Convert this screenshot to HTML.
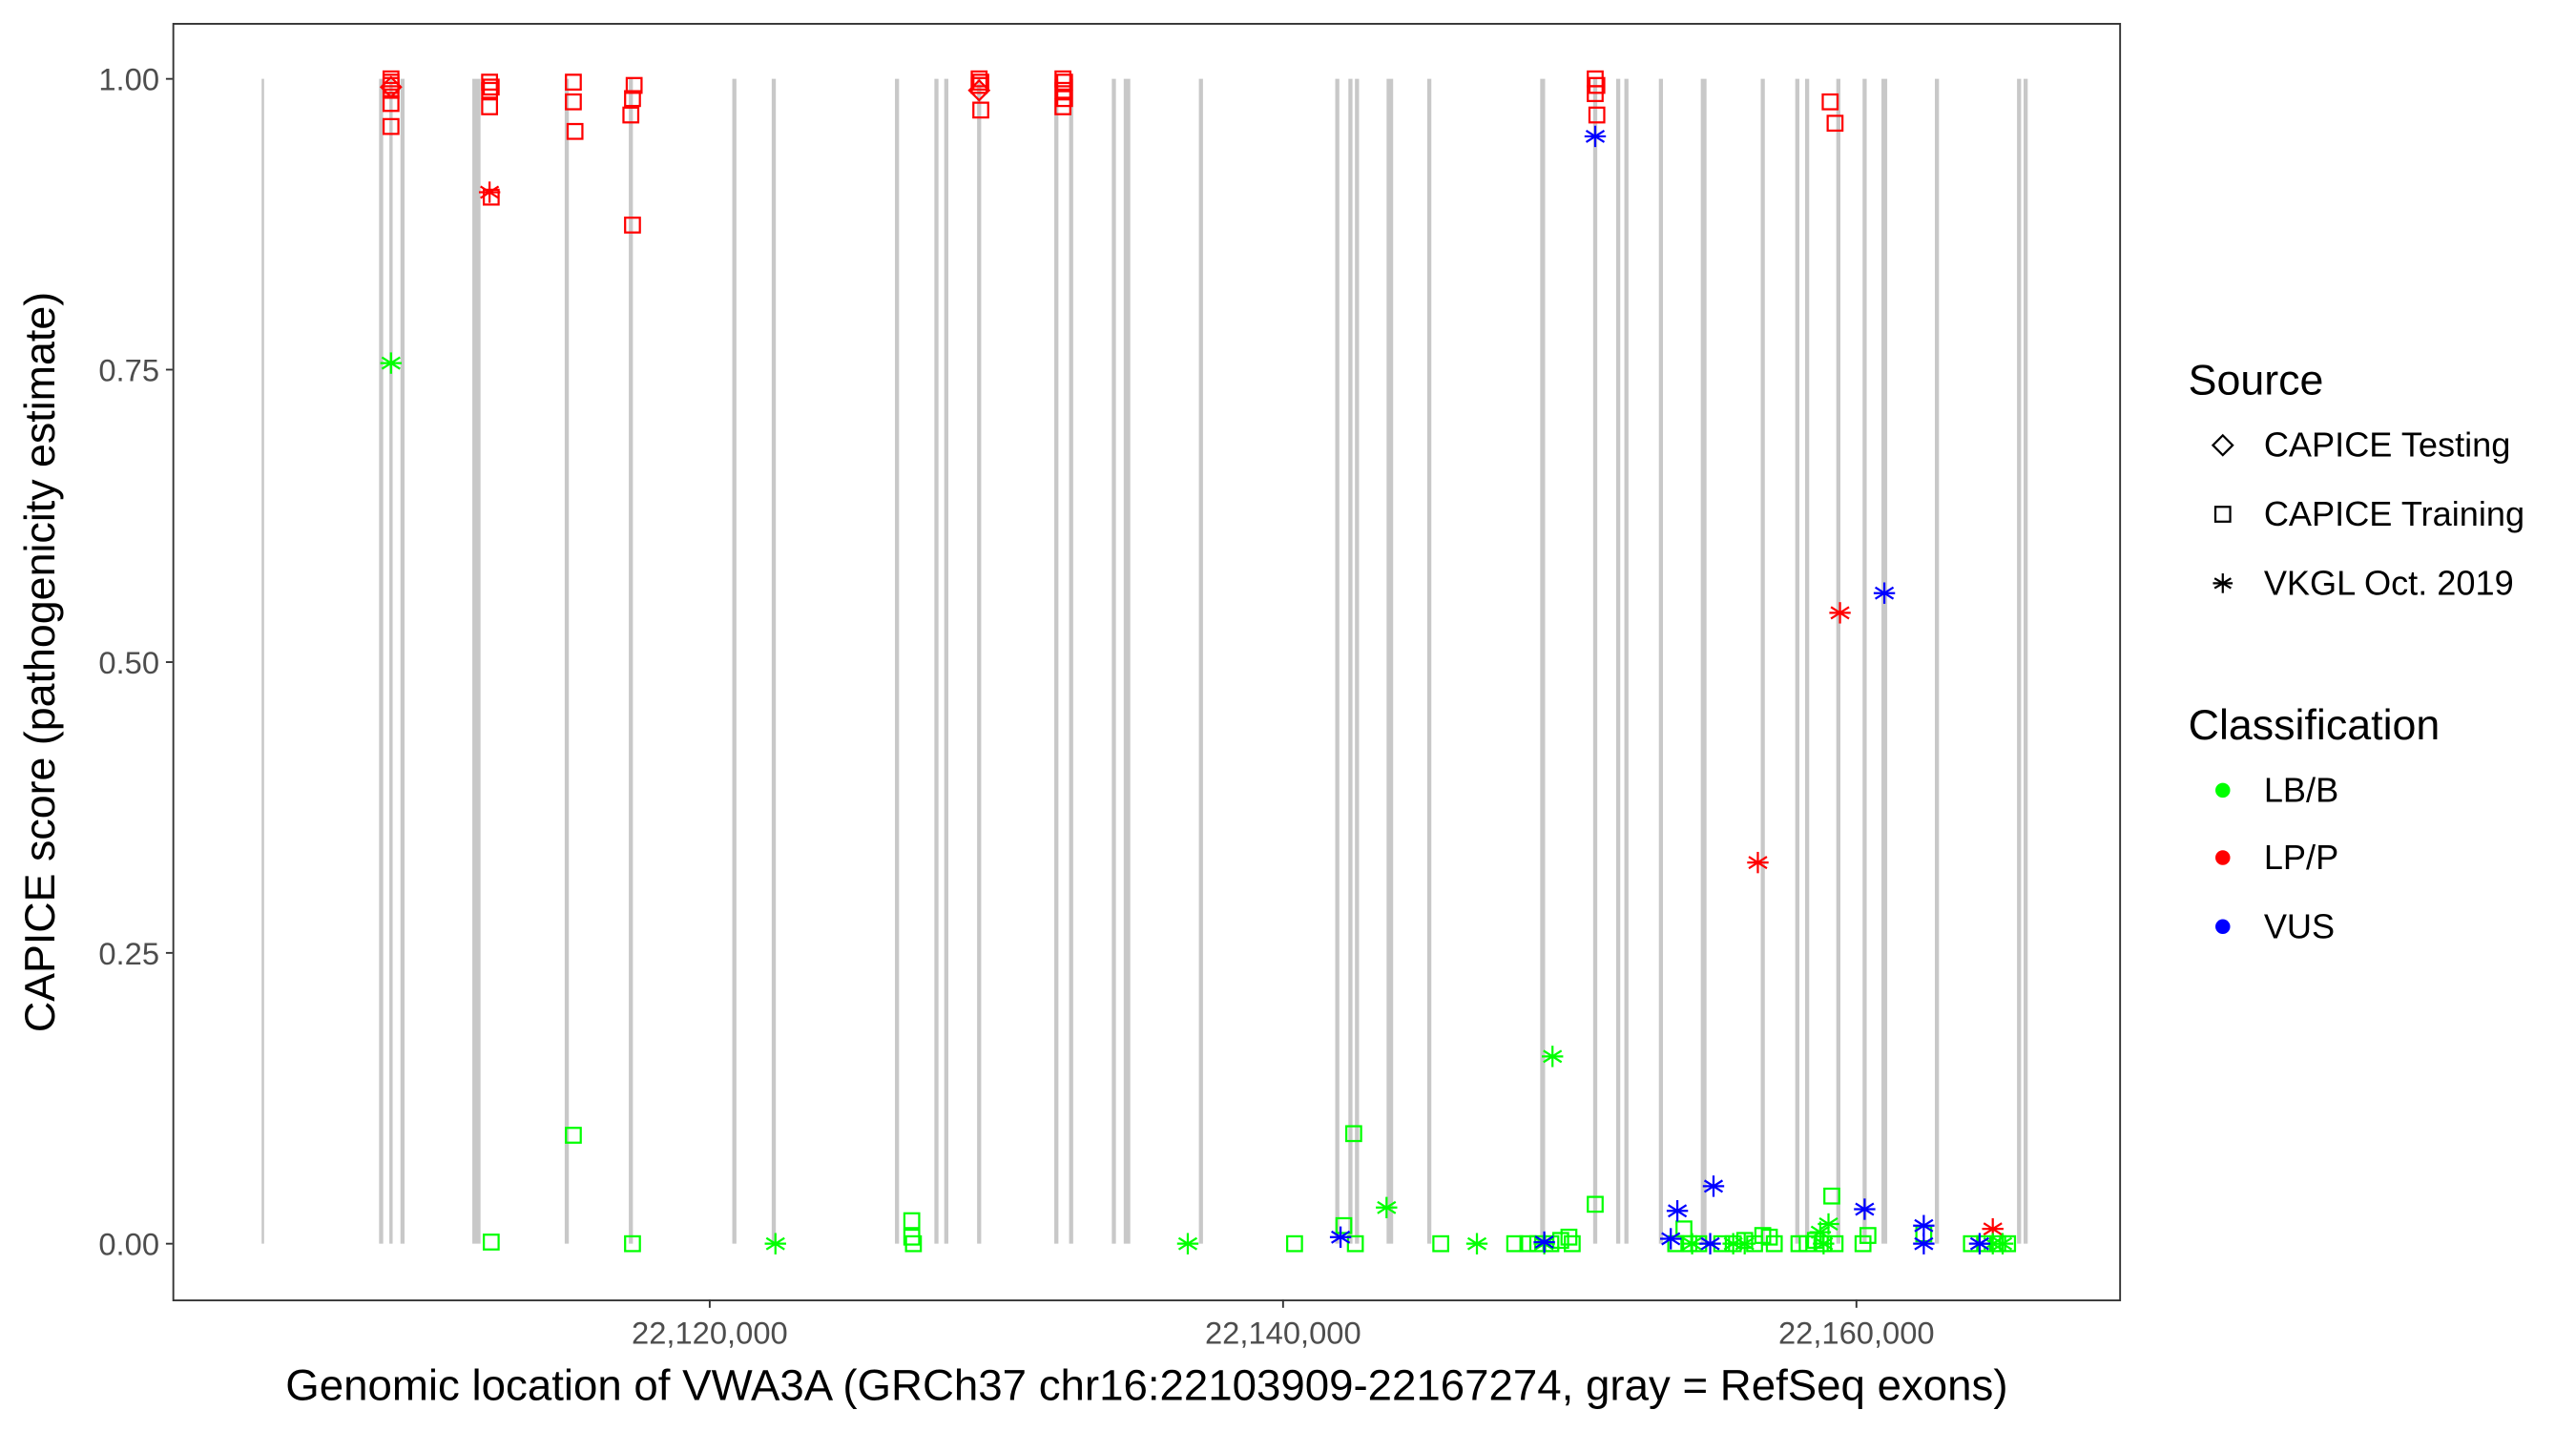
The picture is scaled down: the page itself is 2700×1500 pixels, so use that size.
<!DOCTYPE html>
<html><head><meta charset="utf-8"><style>
html,body{margin:0;padding:0;background:#fff;}
svg{display:block;}
text{font-family:"Liberation Sans",sans-serif;}
</style></head><body>
<svg id="s" width="2700" height="1500" viewBox="0 0 1568 871" preserveAspectRatio="none" xmlns="http://www.w3.org/2000/svg">
<rect x="0" y="0" width="1568" height="871" fill="#fff"/>
<g id="ex" stroke="#c8c8c8"></g>
<g id="pts" fill="none" stroke-width="1.3"></g>
<rect x="105.5" y="14.5" width="1185" height="777" fill="none" stroke="#333" stroke-width="1.1"/>
<g stroke="#333" stroke-width="1.1">
<line x1="101" y1="48" x2="105" y2="48"/><line x1="101" y1="225" x2="105" y2="225"/><line x1="101" y1="403" x2="105" y2="403"/><line x1="101" y1="580" x2="105" y2="580"/><line x1="101" y1="757" x2="105" y2="757"/>
<line x1="432" y1="791" x2="432" y2="796"/><line x1="781" y1="791" x2="781" y2="796"/><line x1="1130" y1="791" x2="1130" y2="796"/>
</g>
<g fill="#4d4d4d" font-size="19" text-anchor="end">
<text x="97" y="55">1.00</text><text x="97" y="232">0.75</text><text x="97" y="410">0.50</text><text x="97" y="587">0.25</text><text x="97" y="764">0.00</text>
</g>
<g fill="#4d4d4d" font-size="19" text-anchor="middle">
<text x="432" y="818">22,120,000</text><text x="781" y="818">22,140,000</text><text x="1130" y="818">22,160,000</text>
</g>
<text x="698" y="852" font-size="26.5" text-anchor="middle" fill="#000">Genomic location of VWA3A (GRCh37 chr16:22103909-22167274, gray = RefSeq exons)</text>
<text transform="translate(33,403) rotate(-90)" font-size="26" text-anchor="middle" fill="#000">CAPICE score (pathogenicity estimate)</text>
<g fill="#000">
<text x="1332" y="240" font-size="26">Source</text>
<text x="1378" y="278" font-size="21">CAPICE Testing</text>
<text x="1378" y="320" font-size="21">CAPICE Training</text>
<text x="1378" y="362" font-size="21">VKGL Oct. 2019</text>
<text x="1332" y="450" font-size="26">Classification</text>
<text x="1378" y="488" font-size="21">LB/B</text>
<text x="1378" y="529" font-size="21">LP/P</text>
<text x="1378" y="571" font-size="21">VUS</text>
</g>
<polygon points="1353,265 1359,271 1353,277 1347,271" fill="none" stroke="#000" stroke-width="1.3"/>
<rect x="1348.5" y="308.5" width="9" height="9" fill="none" stroke="#000" stroke-width="1.3"/>
<g stroke="#000" stroke-width="1.3"><line x1="1353" y1="349" x2="1353" y2="361"/><line x1="1348" y1="352" x2="1358" y2="358"/><line x1="1348" y1="358" x2="1358" y2="352"/><line x1="1347" y1="355" x2="1359" y2="355"/></g>
<circle cx="1353" cy="481" r="4.5" fill="#00ff00"/>
<circle cx="1353" cy="522" r="4.5" fill="#ff0000"/>
<circle cx="1353" cy="564" r="4.5" fill="#0000ff"/>
<script>
var NS="http://www.w3.org/2000/svg";
function el(p,t,a){var e=document.createElementNS(NS,t);for(var k in a)e.setAttribute(k,a[k]);p.appendChild(e);return e;}
var ex=document.getElementById("ex");
var L=[[160,1.5],[232,2.5],[238,2],[245,2.5],[290,5],[345,2.5],[384,2.5],[447,2.5],[471,2.5],[546,2.5],[570,2.5],[576,2.5],[596,2.5],[643,2.5],[652,2.5],[678,2.5],[686,4],[731,2.5],[814,2.5],[822,2.5],[826,2.5],[846,4],[870,2.5],[939,3],[971,2.5],[985,2.5],[990,2.5],[1011,2.5],[1037,3.5],[1073,2.5],[1094,2.5],[1100,2.5],[1119,2.5],[1135,2.5],[1147,3.5],[1179,2.5],[1229,2.5],[1233,2.5]];
L.forEach(function(l){el(ex,"line",{x1:l[0],x2:l[0],y1:48,y2:757,"stroke-width":l[1]});});
var g=document.getElementById("pts");
var C={g:"#00ff00",r:"#ff0000",b:"#0000ff"};
function sq(x,y,c){el(g,"rect",{x:x-4.5,y:y-4.5,width:9,height:9,stroke:C[c]});}
function di(x,y,c){el(g,"polygon",{points:(x)+","+(y-6)+" "+(x+6)+","+y+" "+x+","+(y+6)+" "+(x-6)+","+y,stroke:C[c]});}
function st(x,y,c){var s=C[c];el(g,"line",{x1:x,x2:x,y1:y-6.5,y2:y+6.5,stroke:s});el(g,"line",{x1:x-5.5,x2:x+5.5,y1:y-3.5,y2:y+3.5,stroke:s});el(g,"line",{x1:x-5.5,x2:x+5.5,y1:y+3.5,y2:y-3.5,stroke:s});el(g,"line",{x1:x-6.5,x2:x+6.5,y1:y,y2:y,stroke:s});}
[[238,48],[238,50],[238,52],[238,55],[238,63],[238,77],[298,50],[299,53],[298,55],[298,65],[299,120],[349,50],[349,62],[350,80],[386,52],[385,60],[384,70],[385,137],[596,48],[597,50],[596,52],[597,67],[647,48],[648,50],[647,55],[648,60],[647,65],[971,48],[972,52],[971,57],[972,70],[1114,62],[1117,75]].forEach(function(p){sq(p[0],p[1],"r");});
di(596,55,"r");di(238,53,"r");
st(298,117,"r");st(1120,373,"r");st(1070,525,"r");st(1213,748,"r");
st(971,83,"b");st(1147,361,"b");
st(238,221,"g");st(945,643,"g");st(472,757,"g");st(723,757,"g");st(844,735,"g");st(899,757,"g");st(940,757,"g");
[[349,691],[299,756],[385,757],[555,743],[555,753],[556,757],[788,757],[818,746],[824,690],[825,757],[877,757],[922,757],[930,757],[936,757],[944,757],[950,755],[955,753],[957,757],[971,733],[1025,748],[1020,757],[1028,757],[1034,757],[1048,757],[1055,757],[1062,755],[1068,757],[1073,752],[1077,753],[1080,757],[1095,757],[1100,757],[1105,755],[1110,757],[1115,728],[1117,757],[1134,757],[1137,752],[1171,751],[1200,757],[1208,757],[1216,757],[1222,757]].forEach(function(p){sq(p[0],p[1],"g");});
[[1030,757],[1055,757],[1062,757],[1108,750],[1113,745],[1110,757],[1213,757],[1219,757]].forEach(function(p){st(p[0],p[1],"g");});
[[816,753],[940,756],[1017,754],[1021,737],[1043,722],[1041,757],[1135,736],[1171,746],[1171,757],[1205,757]].forEach(function(p){st(p[0],p[1],"b");});
</script>
</svg>
</body></html>
